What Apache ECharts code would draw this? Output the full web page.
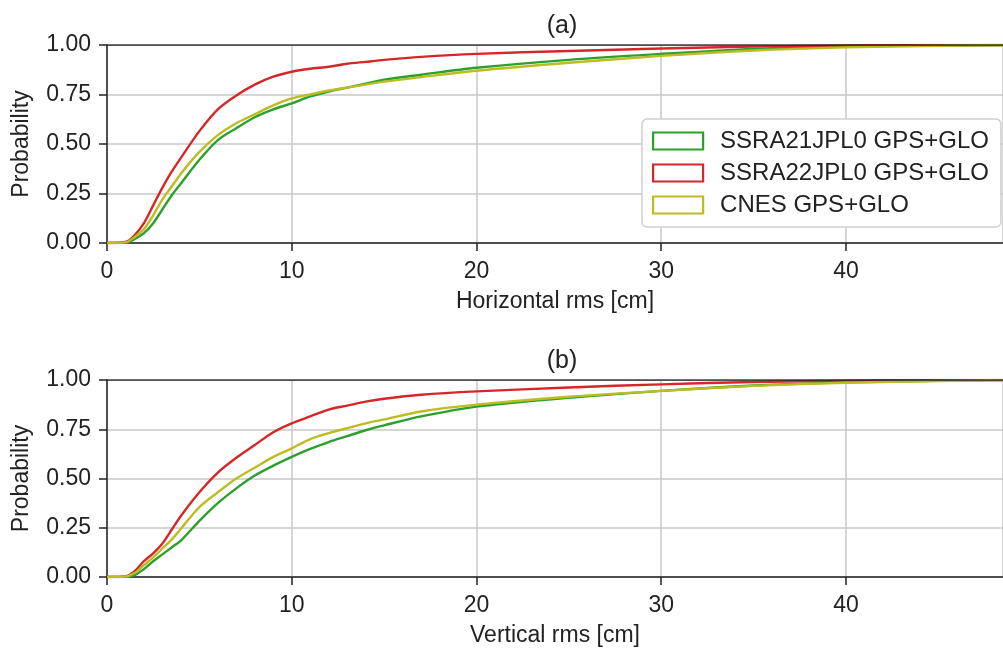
<!DOCTYPE html>
<html><head><meta charset="utf-8">
<script src="https://cdn.jsdelivr.net/npm/echarts@6/dist/echarts.min.js"></script>
<style>html,body{margin:0;padding:0;background:#fff}#c{width:1003px;height:648px}</style>
</head><body><div id="c"></div>
<script>
const xs = [0,1,1.5,2,2.5,3,3.5,4,5,6,7,8,9,10,11,12,13,14,15,17,20,25,30,35,40,45,48.5];
const hGreen  = [0,0,0.02,0.05,0.10,0.17,0.24,0.30,0.42,0.52,0.58,0.635,0.675,0.705,0.74,0.765,0.785,0.805,0.825,0.85,0.885,0.925,0.955,0.98,0.993,0.998,1];
const hRed    = [0,0.005,0.04,0.10,0.19,0.28,0.36,0.43,0.565,0.675,0.745,0.80,0.84,0.865,0.88,0.89,0.905,0.915,0.925,0.94,0.955,0.97,0.982,0.992,0.998,1,1];
const hYellow = [0,0.003,0.03,0.07,0.14,0.22,0.285,0.35,0.46,0.545,0.605,0.65,0.695,0.73,0.75,0.77,0.785,0.80,0.815,0.838,0.87,0.91,0.945,0.972,0.988,0.996,1];
const vGreen  = [0,0,0.01,0.04,0.08,0.115,0.15,0.185,0.285,0.375,0.45,0.515,0.565,0.61,0.65,0.685,0.715,0.745,0.77,0.815,0.865,0.91,0.945,0.972,0.988,0.996,1];
const vRed    = [0,0.003,0.03,0.08,0.12,0.17,0.24,0.31,0.43,0.53,0.605,0.67,0.735,0.78,0.815,0.85,0.87,0.89,0.905,0.925,0.942,0.962,0.978,0.99,0.997,1,1];
const vYellow = [0,0.002,0.02,0.06,0.10,0.145,0.19,0.245,0.355,0.43,0.50,0.555,0.61,0.653,0.70,0.73,0.755,0.78,0.80,0.84,0.875,0.915,0.945,0.97,0.986,0.995,1];
const names = ['SSRA21JPL0 GPS+GLO','SSRA22JPL0 GPS+GLO','CNES GPS+GLO'];
const colors = ['#2ca02c','#d62728','#bcbd22'];
const yTicks = [0,0.25,0.5,0.75,1];
const xTitles = ['Horizontal rms [cm]','Vertical rms [cm]'];
const panelTitles = ['(a)','(b)'];

const FONT = 'Liberation Sans, Arial, sans-serif';
const FS = 23;
const chart = echarts.init(document.getElementById('c'));
const pair = (ys) => xs.map((x,i)=>[x,ys[i]]);
const grids = [{left:107,right:0,top:45,height:198},{left:107,right:0,top:380,height:197}];
function xAxis(i){return {type:'value',gridIndex:i,min:0,max:48.5,interval:10,
  name:xTitles[i],nameLocation:'middle',nameGap:47,nameTextStyle:{fontSize:FS,color:'#222',fontFamily:FONT},
  axisLine:{show:true,lineStyle:{color:'#222',width:1.5}},axisTick:{show:true,length:8,lineStyle:{color:'#222',width:1.5}},
  axisLabel:{fontSize:FS,color:'#222',fontFamily:FONT,margin:17,showMaxLabel:false,formatter:v=>(v%10===0?String(v):'')},
  splitLine:{show:true,lineStyle:{color:'#c8c8c8',width:1.5}}};}
function yAxis(i){return {type:'value',gridIndex:i,min:0,max:1,interval:0.25,
  name:'Probability',nameLocation:'middle',nameGap:74,nameRotate:90,nameTextStyle:{fontSize:FS,color:'#222',fontFamily:FONT},
  axisLine:{show:true,lineStyle:{color:'#222',width:1.5}},axisTick:{show:true,length:8,lineStyle:{color:'#222',width:1.5}},
  axisLabel:{fontSize:FS,color:'#222',fontFamily:FONT,margin:16,formatter:v=>v.toFixed(2)},
  splitLine:{show:true,lineStyle:{color:'#c8c8c8',width:1.5}}};}
const data = [[hGreen,hRed,hYellow],[vGreen,vRed,vYellow]];
const series = [];
for (let g=0; g<2; g++) for (let k=0;k<3;k++) series.push({type:'line',name:names[k],xAxisIndex:g,yAxisIndex:g,
  data:pair(data[g][k]),showSymbol:false,smooth:0.3,lineStyle:{color:colors[k],width:2.4},itemStyle:{color:colors[k]},z:k===2?3:2});
const borders = [0,1].map(g=>({type:'line',xAxisIndex:g,yAxisIndex:g,data:[[0,1],[48.5,1]],showSymbol:false,silent:true,
  lineStyle:{color:'#222',width:1.5},z:5}));
chart.setOption({
  animation:false,
  title:[{text:panelTitles[0],left:557,top:9,textAlign:'center',textStyle:{fontSize:25,fontWeight:'normal',color:'#222',fontFamily:FONT}},
         {text:panelTitles[1],left:557,top:344,textAlign:'center',textStyle:{fontSize:25,fontWeight:'normal',color:'#222',fontFamily:FONT}}],
  grid:grids,
  xAxis:[xAxis(0),xAxis(1)],
  yAxis:[yAxis(0),yAxis(1)],
  legend:{data:names.map((n,i)=>({name:n,itemStyle:{color:'#fff',borderColor:colors[i],borderWidth:2.2}})),
    orient:'vertical',left:642,top:119,icon:'rect',itemWidth:50,itemHeight:17,itemGap:8,
    padding:[10,12,10,10],backgroundColor:'#fff',borderColor:'#d0d0d0',borderWidth:1.5,borderRadius:5,
    textStyle:{fontSize:24,lineHeight:24,color:'#222',fontFamily:FONT,padding:[0,0,0,12]}},
  series:series.concat(borders)
});
</script></body></html>
